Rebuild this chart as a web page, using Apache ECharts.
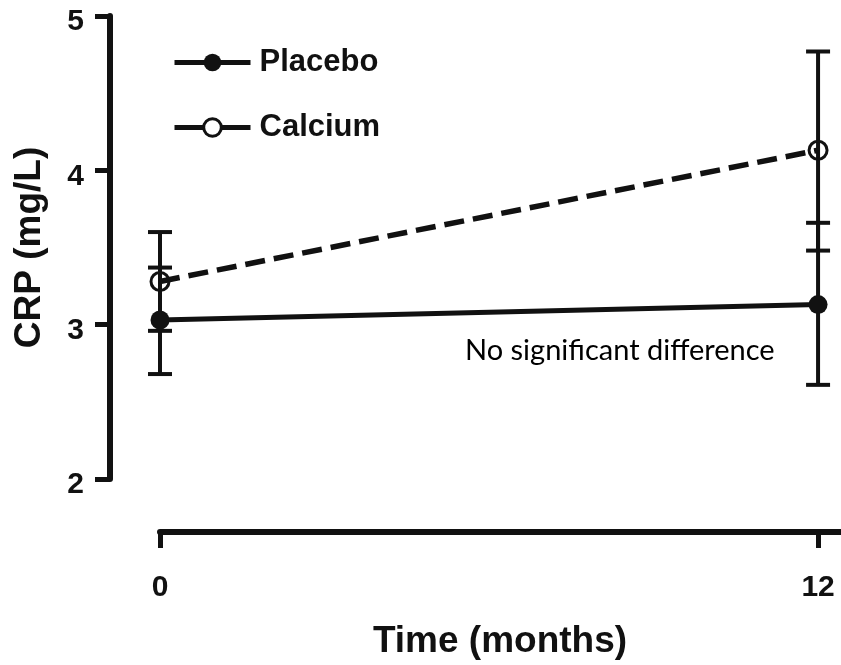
<!DOCTYPE html>
<html>
<head>
<meta charset="utf-8">
<script src="https://cdn.jsdelivr.net/npm/echarts@6/dist/echarts.min.js"></script>
<style>
  html, body { margin: 0; padding: 0; background: #fff; }
  #chart { width: 841px; height: 665px; }
</style>
</head>
<body>
<div id="chart"></div>
<script>
// Time points (months) and axis ticks
const months = [0, 12];
const xTickValues = [0, 12];
const yTickValues = [2, 3, 4, 5];

// CRP (mg/L): mean with lower / upper error-bar ends
const placeboMean = [3.03, 3.13];
const placeboLow = [2.68, 2.61];
const placeboHigh = [3.37, 3.66];

const calciumMean = [3.28, 4.13];
const calciumLow = [2.96, 3.48];
const calciumHigh = [3.60, 4.77];

const seriesNames = ['Placebo', 'Calcium'];
const xAxisTitle = 'Time (months)';
const yAxisTitle = 'CRP (mg/L)';
const note = 'No significant difference';

const INK = '#111';
const boldFont = 'Liberation Sans, Arial, sans-serif';

function pairs(values) {
  return months.map((m, i) => [m, values[i]]);
}

// Vertical error bar with a short cap at each end
function errorBars(name, low, high) {
  return {
    type: 'custom',
    name: name + ' range',
    silent: true,
    z: 1,
    data: months.map((m, i) => [m, low[i], high[i]]),
    renderItem(params, api) {
      const x = api.value(0);
      const top = api.coord([x, api.value(2)]);
      const bot = api.coord([x, api.value(1)]);
      const hw = 12;
      const style = { stroke: INK, lineWidth: 4 };
      return {
        type: 'group',
        children: [
          { type: 'line', shape: { x1: top[0], y1: top[1], x2: bot[0], y2: bot[1] }, style },
          { type: 'line', shape: { x1: top[0] - hw, y1: top[1], x2: top[0] + hw, y2: top[1] }, style },
          { type: 'line', shape: { x1: bot[0] - hw, y1: bot[1], x2: bot[0] + hw, y2: bot[1] }, style }
        ]
      };
    }
  };
}

const chart = echarts.init(document.getElementById('chart'), null, { renderer: 'canvas' });

chart.setOption({
  animation: false,
  backgroundColor: '#fff',
  grid: { left: 160, right: 1, top: 16, bottom: 184, containLabel: false },
  legend: {
    data: [
      { name: seriesNames[0] },
      { name: seriesNames[1], itemStyle: { color: '#fff', borderColor: INK, borderWidth: 3 } }
    ],
    orient: 'vertical',
    left: 172,
    top: 47,
    padding: 0,
    itemWidth: 76,
    itemHeight: 22,
    itemGap: 34,
    selectedMode: false,
    lineStyle: { width: 5, type: 'solid', color: INK },
    textStyle: {
      fontFamily: boldFont, fontWeight: 'bold', fontSize: 31, color: INK,
      lineHeight: 22, padding: [0, 0, 0, 4]
    }
  },
  xAxis: {
    type: 'value',
    min: 0,
    max: 12.4,
    offset: 53,
    splitLine: { show: false },
    axisLine: { show: true, onZero: false, lineStyle: { color: INK, width: 6 } },
    axisTick: { show: true, length: 16, customValues: xTickValues, lineStyle: { color: INK, width: 5 } },
    axisLabel: {
      customValues: xTickValues, margin: 41,
      fontFamily: boldFont, fontWeight: 'bold', fontSize: 30, color: INK
    },
    name: xAxisTitle,
    nameLocation: 'middle',
    nameGap: 91,
    nameTextStyle: { fontFamily: boldFont, fontWeight: 'bold', fontSize: 37, color: INK }
  },
  yAxis: {
    type: 'value',
    min: 2,
    max: 5,
    interval: 1,
    offset: 50,
    splitLine: { show: false },
    axisLine: { show: true, onZero: false, lineStyle: { color: INK, width: 6 } },
    axisTick: { show: true, length: 15, lineStyle: { color: INK, width: 5 } },
    axisLabel: {
      margin: 26,
      fontFamily: boldFont, fontWeight: 'bold', fontSize: 30, color: INK,
      verticalAlign: 'top',
      lineHeight: 12
    },
    name: yAxisTitle,
    nameLocation: 'middle',
    nameGap: 62,
    nameTextStyle: { fontFamily: boldFont, fontWeight: 'bold', fontSize: 37, color: INK }
  },
  graphic: [
    {
      type: 'text',
      left: 465,
      top: 336,
      style: { text: note, font: '29px Lato, "Open Sans", sans-serif', fill: '#000' }
    }
  ],
  series: [
    errorBars(seriesNames[0], placeboLow, placeboHigh),
    errorBars(seriesNames[1], calciumLow, calciumHigh),
    {
      name: seriesNames[0],
      type: 'line',
      z: 3,
      data: pairs(placeboMean),
      symbol: 'circle',
      symbolSize: 19,
      lineStyle: { color: INK, width: 5 },
      itemStyle: { color: INK }
    },
    {
      name: seriesNames[1],
      type: 'line',
      z: 3,
      data: pairs(calciumMean),
      symbol: 'circle',
      symbolSize: 18,
      lineStyle: { color: INK, width: 5.5, type: [20, 9] },
      itemStyle: { color: 'rgba(255,255,255,0)', borderColor: INK, borderWidth: 3 }
    }
  ]
});
</script>
</body>
</html>
